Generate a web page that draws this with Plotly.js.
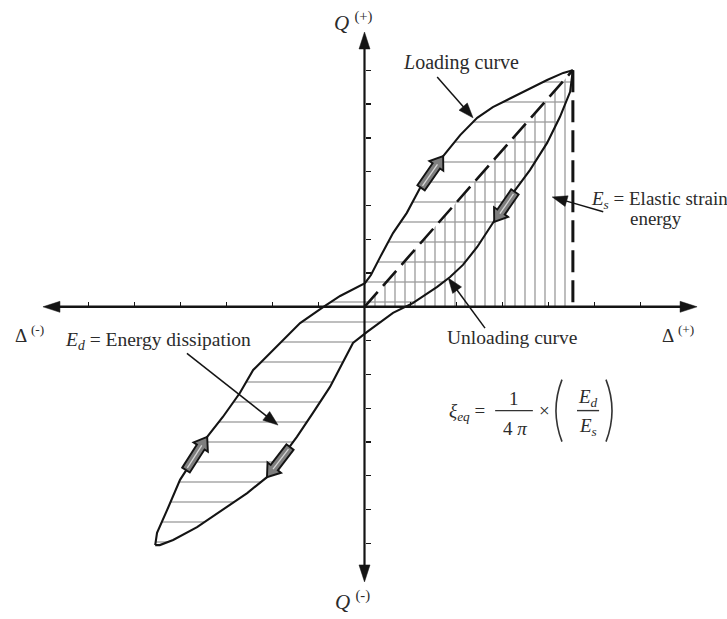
<!DOCTYPE html>
<html>
<head>
<meta charset="utf-8">
<script src="https://cdn.plot.ly/plotly-3.0.1.min.js"></script>
<style>html,body{margin:0;padding:0;background:#fff}</style>
</head>
<body>
<div id="chart" style="width:727px;height:619px"></div>
<script>
// Force–displacement hysteresis loop, both axes in tick units.
const loadingX = [-4.55,-4.51,-4.29,-4.01,-3.73,-3.42,-3.08,-2.71,-2.42,-1.99,-1.40,-0.90,-0.53,0.01,0.14,0.34,0.62,0.92,1.21,1.64,2.08,2.45,2.79,3.10,3.53,3.97,4.32,4.53];
const loadingY = [-7.05,-6.69,-6.01,-5.12,-4.53,-3.85,-3.26,-2.55,-1.87,-1.28,-0.48,-0.01,0.32,0.70,0.94,1.47,2.18,2.78,3.52,4.34,5.08,5.59,5.91,6.12,6.41,6.71,6.92,7.00];
const unloadingX = [4.53,4.47,4.25,3.97,3.60,3.23,2.79,2.45,2.14,1.86,1.58,1.05,0.62,0.34,0.05,-0.25,-0.47,-0.75,-1.12,-1.47,-1.84,-2.12,-2.55,-3.08,-3.64,-4.16,-4.45,-4.55];
const unloadingY = [7.00,6.36,5.62,4.85,4.05,3.37,2.48,1.77,1.24,0.88,0.59,0.11,-0.18,-0.45,-0.75,-1.07,-1.66,-2.37,-3.14,-3.85,-4.53,-5.04,-5.51,-6.01,-6.52,-6.90,-7.05,-7.05];

// Axis ticks and axis arrow ends
const xTicks = [-6,-5,-4,-3,-2,-1,1,2,3,4,5,6];
const yTicks = [-7,-6,-5,-4,-3,-2,-1,1,2,3,4,5,6,7];
const deltaAxisEnds = [-6.99, 7.23];
const forceAxisEnds = [-8.14, 8.13];

// Direction-of-travel arrows on the loop (tail -> tip)
const flowTailX = [1.23, 3.27, -3.88, -1.62];
const flowTailY = [3.52, 3.40, -4.83, -4.15];
const flowTipX  = [1.71, 2.82, -3.42, -2.12];
const flowTipY  = [4.46, 2.51, -3.85, -5.04];

// Label pointers (tail -> tip)
const pointerTailX = [1.58, 5.19, 2.62, -3.86];
const pointerTailY = [6.80, 2.81, -0.63, -1.38];
const pointerTipX  = [2.36, 4.08, 1.82, -1.88];
const pointerTipY  = [5.59, 3.25, 0.85, -3.50];

const peakX = loadingX[loadingX.length - 1];
const peakY = loadingY[loadingY.length - 1];

// Frame geometry
const W = 727, H = 619, TOP = 12;
const SX = 46, SY = 33.8;          // pixels per tick unit
const OX = 364.5, OY = 306.8;      // pixel position of the origin
const xRange = [-OX / SX, (W - OX) / SX];
const yRange = [-(H - OY) / SY, (OY - TOP) / SY];

const INK = '#141414';
const HATCH = '#9a9a9a';
const SERIF = 'Liberation Serif, Times New Roman, serif';

// Helpers working in data units with pixel-sized offsets
function unitDir(x0, y0, x1, y1) {
  const dx = (x1 - x0) * SX, dy = (y1 - y0) * SY;
  const L = Math.hypot(dx, dy);
  return [dx / L, dy / L, L];
}
function off(x, y, e, along, across) {
  const px = e[0] * along - e[1] * across;
  const py = e[1] * along + e[0] * across;
  return [x + px / SX, y + py / SY];
}
function poly(pts) {
  return 'M' + pts.map(p => p[0].toFixed(4) + ',' + p[1].toFixed(4)).join('L') + 'Z';
}
function arrowShapes(x0, y0, x1, y1, width, headLen, headWid, color) {
  const e = unitDir(x0, y0, x1, y1);
  const shaftEnd = off(x1, y1, e, -headLen * 0.7, 0);
  const base = -headLen;
  return [
    {type: 'line', xref: 'x', yref: 'y', x0: x0, y0: y0, x1: shaftEnd[0], y1: shaftEnd[1],
     line: {color: color, width: width}},
    {type: 'path', xref: 'x', yref: 'y',
     path: poly([[x1, y1], off(x1, y1, e, base, headWid / 2), off(x1, y1, e, base, -headWid / 2)]),
     fillcolor: color, line: {color: color, width: 0.5}}
  ];
}
function blockArrowShapes(x0, y0, x1, y1) {
  const e = unitDir(x0, y0, x1, y1);
  const shaft = 4.5, head = 8.5, hl = 12;
  const len = e[2];
  const pts = [
    off(x0, y0, e, 0, shaft), off(x0, y0, e, len - hl, shaft), off(x0, y0, e, len - hl, head),
    [x1, y1],
    off(x0, y0, e, len - hl, -head), off(x0, y0, e, len - hl, -shaft), off(x0, y0, e, 0, -shaft)
  ];
  const s0 = off(x0, y0, e, 2.5, 0), s1 = off(x0, y0, e, len - hl + 2, 0);
  return [
    {type: 'path', xref: 'x', yref: 'y', path: poly(pts), fillcolor: '#7e7e7e', line: {color: INK, width: 1.9}},
    {type: 'line', xref: 'x', yref: 'y', x0: s0[0], y0: s0[1], x1: s1[0], y1: s1[1], line: {color: '#d6d6d6', width: 1.3}}
  ];
}

const traces = [
  // Elastic strain energy triangle (vertical hatching)
  {x: [0, peakX, peakX, 0], y: [0, peakY, 0, 0], mode: 'lines', fill: 'toself',
   fillcolor: 'rgba(0,0,0,0)', line: {width: 0},
   fillpattern: {shape: '|', size: 10, solidity: 0.13, fgcolor: HATCH, bgcolor: 'rgba(0,0,0,0)', fgopacity: 1},
   hoverinfo: 'skip'},
  // Dissipated energy loop (horizontal hatching)
  {x: loadingX.concat(unloadingX), y: loadingY.concat(unloadingY), mode: 'lines', fill: 'toself',
   fillcolor: 'rgba(0,0,0,0)', line: {width: 0},
   fillpattern: {shape: '-', size: 20, solidity: 0.065, fgcolor: HATCH, bgcolor: 'rgba(0,0,0,0)', fgopacity: 1},
   hoverinfo: 'skip'},
  // Secant stiffness line and peak drop line
  {x: [0, peakX], y: [0, peakY], mode: 'lines', line: {color: INK, width: 2.6, dash: '20px,8px'}, hoverinfo: 'skip'},
  {x: [peakX, peakX], y: [peakY, 0], mode: 'lines', line: {color: INK, width: 3, dash: '22px,8px'}, hoverinfo: 'skip'},
  // Loading and unloading branches
  {x: loadingX, y: loadingY, mode: 'lines', line: {color: INK, width: 2.1}, hoverinfo: 'skip'},
  {x: unloadingX, y: unloadingY, mode: 'lines', line: {color: INK, width: 2.1}, hoverinfo: 'skip'}
];

let shapes = [];
// Axes with arrowheads at both ends
shapes = shapes.concat(arrowShapes(0, 0, deltaAxisEnds[0], 0, 2.6, 17, 11, INK));
shapes = shapes.concat(arrowShapes(0, 0, deltaAxisEnds[1], 0, 2.6, 17, 11, INK));
shapes = shapes.concat(arrowShapes(0, 0, 0, forceAxisEnds[0], 2.2, 17, 11, INK));
shapes = shapes.concat(arrowShapes(0, 0, 0, forceAxisEnds[1], 2.2, 17, 11, INK));
for (let i = 0; i < flowTailX.length; i++) {
  shapes = shapes.concat(blockArrowShapes(flowTailX[i], flowTailY[i], flowTipX[i], flowTipY[i]));
}
for (let i = 0; i < pointerTailX.length; i++) {
  shapes = shapes.concat(arrowShapes(pointerTailX[i], pointerTailY[i], pointerTipX[i], pointerTipY[i], 1.5, 15, 11, INK));
}

// Damping formula: fraction bars and large parentheses
const eqY = -3.071;
shapes.push({type: 'line', xref: 'x', yref: 'y', x0: 2.84, x1: 3.66, y0: eqY, y1: eqY, line: {color: '#333', width: 1.4}});
shapes.push({type: 'line', xref: 'x', yref: 'y', x0: 4.62, x1: 5.10, y0: eqY, y1: eqY, line: {color: '#333', width: 1.4}});
shapes.push({type: 'path', xref: 'x', yref: 'y', path: 'M4.293,-2.154Q4.032,-3.071 4.293,-3.988', line: {color: '#333', width: 1.6}});
shapes.push({type: 'path', xref: 'x', yref: 'y', path: 'M5.250,-2.154Q5.511,-3.071 5.250,-3.988', line: {color: '#333', width: 1.6}});

function label(text, x, y, size, xanchor) {
  return {text: text, x: x, y: y, xref: 'x', yref: 'y', showarrow: false,
          xanchor: xanchor || 'center', yanchor: 'middle',
          font: {family: SERIF, size: size, color: '#2b2b2b'}};
}

const annotations = [
  label('<i>L</i>oading curve', 2.10, 7.24, 20),
  label('<i>E</i><sub><i>s</i></sub> = Elastic strain', 6.42, 3.17, 19),
  label('energy', 6.34, 2.60, 19),
  label('Unloading curve', 3.21, -0.92, 19.5),
  label('<i>E</i><sub><i>d</i></sub> = Energy dissipation', -4.48, -1.00, 19.5),
  label('Δ <sup>(-)</sup>', -7.64, -0.80, 19, 'left'),
  label('Δ <sup>(+)</sup>', 6.42, -0.80, 19, 'left'),
  label('<i>Q</i> <sup>(+)</sup>', -0.71, 8.43, 21, 'left'),
  label('<i>Q</i> <sup>(-)</sup>', -0.69, -8.70, 21, 'left'),
  label('<i>ξ</i><sub><i>eq</i></sub> =', 1.79, -3.12, 19, 'left'),
  label('1', 3.25, -2.70, 19),
  label('4 <i>π</i>', 3.27, -3.59, 19),
  label('×', 3.92, -3.07, 19),
  label('<i>E</i><sub><i>d</i></sub>', 4.86, -2.70, 19),
  label('<i>E</i><sub><i>s</i></sub>', 4.86, -3.56, 19)
];

const layout = {
  width: W, height: H,
  margin: {l: 0, r: 0, t: TOP, b: 0, pad: 0},
  paper_bgcolor: '#fff', plot_bgcolor: '#fff',
  showlegend: false,
  xaxis: {range: xRange, anchor: 'free', position: (0 - yRange[0]) / (yRange[1] - yRange[0]),
          showgrid: false, zeroline: false, showline: false, showticklabels: false,
          ticks: 'inside', ticklen: 5, tickwidth: 1.4, tickcolor: INK,
          tickmode: 'array', tickvals: xTicks, fixedrange: true},
  yaxis: {range: yRange, anchor: 'free', position: (0 - xRange[0]) / (xRange[1] - xRange[0]),
          showgrid: false, zeroline: false, showline: false, showticklabels: false,
          ticks: 'inside', ticklen: 5, tickwidth: 1.4, tickcolor: INK,
          tickmode: 'array', tickvals: yTicks, fixedrange: true},
  shapes: shapes,
  annotations: annotations
};

Plotly.newPlot('chart', traces, layout, {staticPlot: true, displayModeBar: false});
</script>
</body>
</html>
